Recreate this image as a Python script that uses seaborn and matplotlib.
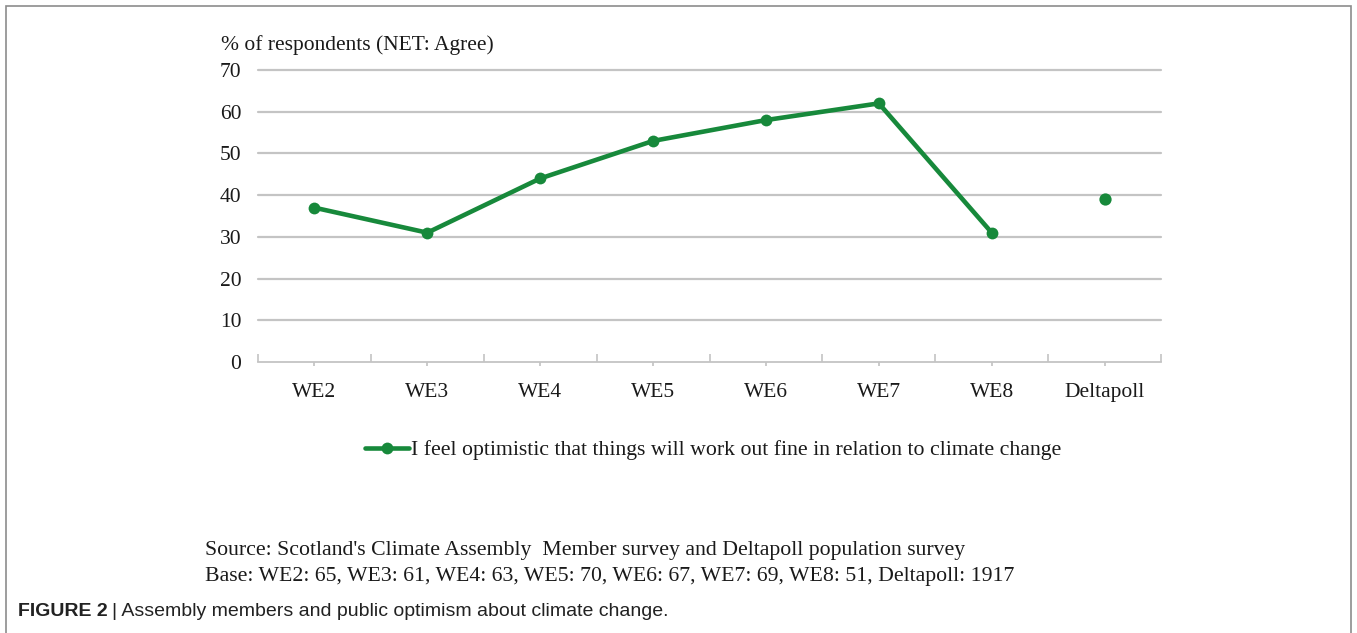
import numpy as np
import pandas as pd
import matplotlib
matplotlib.use("Agg")
import matplotlib.pyplot as plt
import seaborn as sns
from matplotlib.patches import Rectangle

# data
categories = ["WE2", "WE3", "WE4", "WE5", "WE6", "WE7", "WE8", "Deltapoll"]
agree_pct = [37, 31, 44, 53, 58, 62, 31, 39]
y_ticks = [0, 10, 20, 30, 40, 50, 60, 70]
series_label = "I feel optimistic that things will work out fine in relation to climate change"
source_lines = [
    "Source: Scotland's Climate Assembly  Member survey and Deltapoll population survey",
    "Base: WE2: 65, WE3: 61, WE4: 63, WE5: 70, WE6: 67, WE7: 69, WE8: 51, Deltapoll: 1917",
]

GREEN = "#17893b"
GRID = "#c4c4c4"
TEXT = "#1a1a1a"

sns.set_theme(style="white")
plt.rcParams["font.family"] = ["Liberation Serif", "DejaVu Serif"]

df = pd.DataFrame({"wave": categories, "pct": agree_pct})
df["pos"] = np.arange(len(df))
members = df[df["wave"] != "Deltapoll"]
public = df[df["wave"] == "Deltapoll"]

fig = plt.figure(figsize=(13.57, 6.33), dpi=100)
ax = fig.add_axes([0.1901, 0.4281, 0.6655, 0.4613])

sns.lineplot(data=members, x="pos", y="pct", ax=ax, color=GREEN, linewidth=3.3,
             marker="o", markersize=8.5, markeredgewidth=0, label=series_label)
sns.scatterplot(data=public, x="pos", y="pct", ax=ax, color=GREEN, s=78,
                linewidth=0, legend=False)

ax.set_xlim(-0.5, len(categories) - 0.5)
ax.set_ylim(0, 70)
ax.set_yticks(y_ticks)
ax.set_xticks(df["pos"])
ax.set_xticklabels(categories)
ax.set_xticks(np.arange(-0.5, len(categories)), minor=True)
ax.set_xlabel("")
ax.set_ylabel("")

for y in y_ticks[1:]:
    ax.axhline(y, color=GRID, linewidth=1.6, zorder=0, clip_on=False)

for side in ["top", "right", "left"]:
    ax.spines[side].set_visible(False)
ax.spines["bottom"].set_color(GRID)
ax.spines["bottom"].set_linewidth(1.3)

ax.tick_params(axis="y", length=0, pad=12, labelsize=15.5, labelcolor=TEXT)
ax.tick_params(axis="x", which="major", direction="out", length=3, color=GRID,
               pad=12, labelsize=15.5, labelcolor=TEXT, bottom=True)
ax.tick_params(axis="x", which="minor", direction="in", length=6, color=GRID,
               width=1.2, bottom=True)

fig.text(221 / 1357, 1 - 45 / 633, "% of respondents (NET: Agree)", fontsize=15.5,
         color=TEXT, va="center", ha="left")

handles, labels = ax.get_legend_handles_labels()
ax.get_legend().remove()
fig.legend(handles, labels, loc="center", bbox_to_anchor=(713 / 1357, 1 - 450 / 633),
           frameon=False, fontsize=15.7, handlelength=2.0, handletextpad=0.1,
           labelcolor=TEXT)

for i, line in enumerate(source_lines):
    fig.text(205 / 1357, 1 - (550 + 27 * i) / 633, line, fontsize=15.7,
             color=TEXT, va="center", ha="left")

# caption
cap_y = 1 - 611 / 633
t1 = fig.text(18 / 1357, cap_y, "FIGURE 2", fontsize=14, fontweight="bold",
              family=["Liberation Sans", "DejaVu Sans"], color="#222222", va="center")
fig.canvas.draw()
bb = t1.get_window_extent()
fig.text(bb.x1 / 1357 + 0.003, cap_y,
         "| Assembly members and public optimism about climate change.",
         fontsize=14, family=["Liberation Sans", "DejaVu Sans"], color="#222222",
         va="center")

# outer frame
fig.patches.append(Rectangle((6 / 1357, -0.01), 1345 / 1357, 1 - 6 / 633 + 0.01,
                             transform=fig.transFigure, fill=False,
                             edgecolor="#8c8c8c", linewidth=1.2))

fig.savefig("out.png", dpi=100)
